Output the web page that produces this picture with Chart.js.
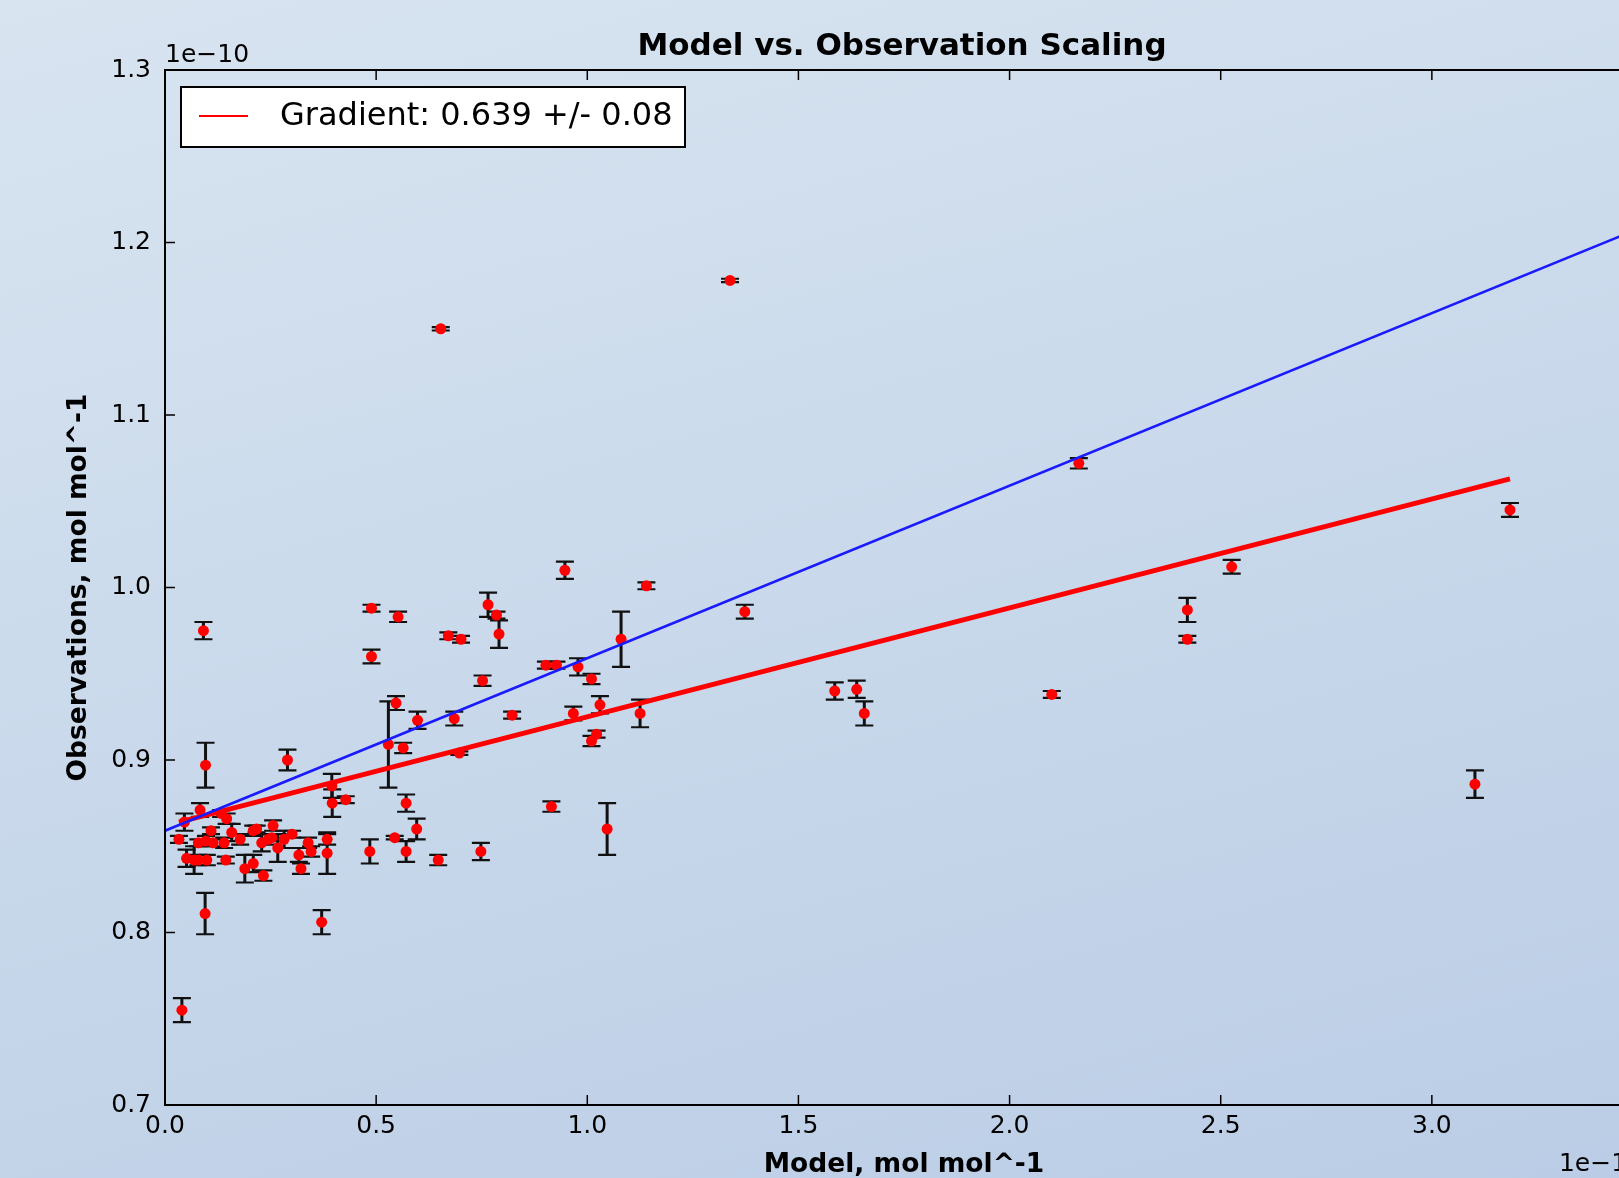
<!DOCTYPE html>
<html>
<head>
<meta charset="utf-8">
<script src="https://cdn.jsdelivr.net/npm/chart.js@4/dist/chart.umd.min.js"></script>
<style>
  html, body { margin: 0; padding: 0; overflow: hidden; }
  body {
    width: 1619px; height: 1178px;
    background: linear-gradient(165deg, #d8e4f0 0%, #c9d9eb 50%, #bbcde6 100%);
  }
  #wrap { width: 1700px; height: 1178px; position: relative; }
</style>
</head>
<body>
<div id="wrap"><canvas id="chart"></canvas></div>
<script>
// model values (x, units of 1e-11)
const modelX = [
  1.338, 0.653, 2.164, 3.185, 0.947, 2.526, 1.140, 0.489, 0.552, 0.765,
  0.785, 0.791, 2.421, 2.421, 1.373, 1.080, 0.091, 0.671, 0.701, 0.489,
  0.902, 0.927, 0.978, 1.010, 0.752, 1.586, 1.638, 1.656, 2.100, 0.547,
  1.030, 0.598, 0.685, 0.822, 0.967, 1.125, 1.022, 1.010, 0.529, 0.564,
  0.697, 0.290, 0.096, 0.395, 0.396, 0.428, 0.571, 0.596, 0.544, 0.571,
  0.485, 0.647, 0.748, 0.915, 1.047, 3.102, 0.095, 0.371, 0.040, 0.083,
  0.046, 0.133, 0.146, 0.109, 0.158, 0.033, 0.079, 0.097, 0.114, 0.140,
  0.178, 0.209, 0.217, 0.256, 0.229, 0.245, 0.253, 0.267, 0.282, 0.301,
  0.317, 0.322, 0.339, 0.346, 0.384, 0.384, 0.051, 0.069, 0.079, 0.099,
  0.144, 0.189, 0.209, 0.233
];
// observations (y, units of 1e-10)
const obsY = [
  1.178, 1.150, 1.072, 1.045, 1.010, 1.012, 1.001, 0.988, 0.983, 0.990,
  0.984, 0.973, 0.987, 0.970, 0.986, 0.970, 0.975, 0.972, 0.970, 0.960,
  0.955, 0.955, 0.954, 0.947, 0.946, 0.940, 0.941, 0.927, 0.938, 0.933,
  0.932, 0.923, 0.924, 0.926, 0.927, 0.927, 0.915, 0.911, 0.909, 0.907,
  0.904, 0.900, 0.897, 0.885, 0.875, 0.877, 0.875, 0.860, 0.855, 0.847,
  0.847, 0.842, 0.847, 0.873, 0.860, 0.886, 0.811, 0.806, 0.755, 0.871,
  0.864, 0.869, 0.866, 0.859, 0.858, 0.854, 0.852, 0.853, 0.852, 0.852,
  0.854, 0.859, 0.860, 0.862, 0.852, 0.854, 0.855, 0.849, 0.854, 0.857,
  0.845, 0.837, 0.852, 0.847, 0.854, 0.846, 0.843, 0.842, 0.842, 0.842,
  0.842, 0.837, 0.840, 0.833
];
// half-length of the error bar on each observation
const obsErr = [
  0.001, 0.001, 0.003, 0.004, 0.005, 0.004, 0.002, 0.002, 0.003, 0.007,
  0.002, 0.008, 0.007, 0.002, 0.004, 0.016, 0.005, 0.002, 0.002, 0.004,
  0.002, 0.002, 0.005, 0.003, 0.003, 0.005, 0.005, 0.007, 0.002, 0.004,
  0.005, 0.005, 0.004, 0.002, 0.004, 0.008, 0.002, 0.003, 0.025, 0.003,
  0.001, 0.006, 0.013, 0.007, 0.008, 0.002, 0.005, 0.006, 0.001, 0.006,
  0.007, 0.003, 0.005, 0.003, 0.015, 0.008, 0.012, 0.007, 0.007, 0.004,
  0.005, 0.002, 0.003, 0.002, 0.005, 0.002, 0.002, 0.003, 0.002, 0.003,
  0.003, 0.003, 0.002, 0.003, 0.005, 0.003, 0.002, 0.008, 0.005, 0.002,
  0.004, 0.003, 0.003, 0.003, 0.003, 0.012, 0.005, 0.008, 0.003, 0.003,
  0.002, 0.008, 0.005, 0.003
];

// fitted line (red) and 1:1 line (blue) end points
const fitX = [0.033, 3.185];
const fitY = [0.864, 1.063];
const oneToOneX = [0, 3.5];
const oneToOneY = [0.859, 1.209];

const xTicks = [0, 0.5, 1.0, 1.5, 2.0, 2.5, 3.0, 3.5];
const yTicks = [0.7, 0.8, 0.9, 1.0, 1.1, 1.2, 1.3];

const legendLabel = 'Gradient: 0.639 +/- 0.08';

Chart.defaults.font.family = '"DejaVu Sans", "Liberation Sans", sans-serif';
Chart.defaults.color = '#000';

// vertical error bars with caps, under the markers
const errorBars = {
  id: 'errorBars',
  beforeDatasetsDraw(chart) {
    const { ctx, chartArea, scales: { x, y } } = chart;
    ctx.save();
    ctx.beginPath();
    ctx.rect(chartArea.left, chartArea.top, chartArea.width, chartArea.height);
    ctx.clip();
    ctx.strokeStyle = '#111';
    for (let i = 0; i < modelX.length; i++) {
      const px = x.getPixelForValue(modelX[i]);
      const top = y.getPixelForValue(obsY[i] + obsErr[i]);
      const bot = y.getPixelForValue(obsY[i] - obsErr[i]);
      ctx.lineWidth = 3;
      ctx.beginPath();
      ctx.moveTo(px, top);
      ctx.lineTo(px, bot);
      ctx.stroke();
      ctx.lineWidth = 2.2;
      ctx.beginPath();
      ctx.moveTo(px - 9, top);
      ctx.lineTo(px + 9, top);
      ctx.moveTo(px - 9, bot);
      ctx.lineTo(px + 9, bot);
      ctx.stroke();
    }
    ctx.restore();
  }
};

// axes frame, inward ticks, title, offset texts and the legend box
const decorations = {
  id: 'decorations',
  afterDraw(chart) {
    const { ctx, chartArea: a, scales: { x, y } } = chart;
    ctx.save();
    ctx.strokeStyle = '#000';
    ctx.lineWidth = 1.5;
    ctx.beginPath();
    xTicks.forEach(v => {
      const px = x.getPixelForValue(v);
      ctx.moveTo(px, a.bottom); ctx.lineTo(px, a.bottom - 10);
      ctx.moveTo(px, a.top); ctx.lineTo(px, a.top + 10);
    });
    yTicks.forEach(v => {
      const py = y.getPixelForValue(v);
      ctx.moveTo(a.left, py); ctx.lineTo(a.left + 10, py);
      ctx.moveTo(a.right, py); ctx.lineTo(a.right - 10, py);
    });
    ctx.stroke();

    ctx.lineWidth = 2;
    ctx.strokeRect(a.left, a.top, a.right - a.left, a.bottom - a.top);

    ctx.fillStyle = '#000';
    ctx.font = 'bold 31px "DejaVu Sans", sans-serif';
    ctx.textAlign = 'center';
    ctx.textBaseline = 'alphabetic';
    ctx.fillText('Model vs. Observation Scaling', (a.left + a.right) / 2 - 2, 55);

    ctx.font = '25px "DejaVu Sans", sans-serif';
    ctx.textAlign = 'left';
    ctx.fillText('1e\u221210', a.left, 62);
    ctx.textAlign = 'right';
    ctx.fillText('1e\u221211', a.right, 1171);

    // legend
    ctx.fillStyle = '#fff';
    ctx.fillRect(181, 87, 504, 60);
    ctx.strokeStyle = '#000';
    ctx.lineWidth = 2;
    ctx.strokeRect(181, 87, 504, 60);
    ctx.strokeStyle = '#ff0000';
    ctx.beginPath();
    ctx.moveTo(199, 116); ctx.lineTo(248, 116);
    ctx.stroke();
    ctx.fillStyle = '#000';
    ctx.font = '32px "DejaVu Sans", sans-serif';
    ctx.textAlign = 'left';
    ctx.textBaseline = 'middle';
    ctx.fillText(legendLabel, 280, 117);
    ctx.restore();
  }
};

const points = modelX.map((v, i) => ({ x: v, y: obsY[i] }));
const fitLine = fitX.map((v, i) => ({ x: v, y: fitY[i] }));
const unityLine = oneToOneX.map((v, i) => ({ x: v, y: oneToOneY[i] }));

new Chart(document.getElementById('chart'), {
  type: 'scatter',
  data: {
    datasets: [
      {
        label: 'Observations',
        data: points,
        backgroundColor: '#ff0000',
        borderWidth: 0,
        pointRadius: 5.5,
        order: 2
      },
      {
        label: legendLabel,
        data: fitLine,
        showLine: true,
        borderColor: '#ff0000',
        borderWidth: 5,
        pointRadius: 0,
        order: 1
      },
      {
        label: '1:1',
        data: unityLine,
        showLine: true,
        borderColor: '#1a1aff',
        borderWidth: 2.5,
        pointRadius: 0,
        order: 0
      }
    ]
  },
  options: {
    responsive: true,
    maintainAspectRatio: false,
    animation: false,
    events: [],
    layout: { padding: { top: 70, right: 57, left: 0, bottom: 0 } },
    plugins: {
      legend: { display: false },
      title: { display: false },
      tooltip: { enabled: false }
    },
    scales: {
      x: {
        type: 'linear',
        min: 0,
        max: 3.5,
        afterFit: s => { s.height = 73; },
        afterBuildTicks: s => { s.ticks = xTicks.map(v => ({ value: v })); },
        ticks: {
          callback: v => v.toFixed(1),
          font: { size: 25 },
          color: '#000',
          padding: 6,
          maxRotation: 0
        },
        grid: { display: false, drawTicks: false },
        border: { display: false },
        title: {
          display: true,
          text: 'Model, mol mol^-1',
          font: { size: 26.5, weight: 'bold', lineHeight: 1 },
          padding: 0,
          color: '#000'
        }
      },
      y: {
        type: 'linear',
        min: 0.7,
        max: 1.3,
        afterFit: s => { s.width = 165; },
        afterBuildTicks: s => { s.ticks = yTicks.map(v => ({ value: v })); },
        ticks: {
          callback: v => v.toFixed(1),
          font: { size: 25 },
          color: '#000',
          padding: 14
        },
        grid: { display: false, drawTicks: false },
        border: { display: false },
        title: {
          display: true,
          text: 'Observations, mol mol^-1',
          font: { size: 26.5, weight: 'bold', lineHeight: 1 },
          padding: { top: 66, bottom: 0 },
          color: '#000'
        }
      }
    }
  },
  plugins: [errorBars, decorations]
});
</script>
</body>
</html>
